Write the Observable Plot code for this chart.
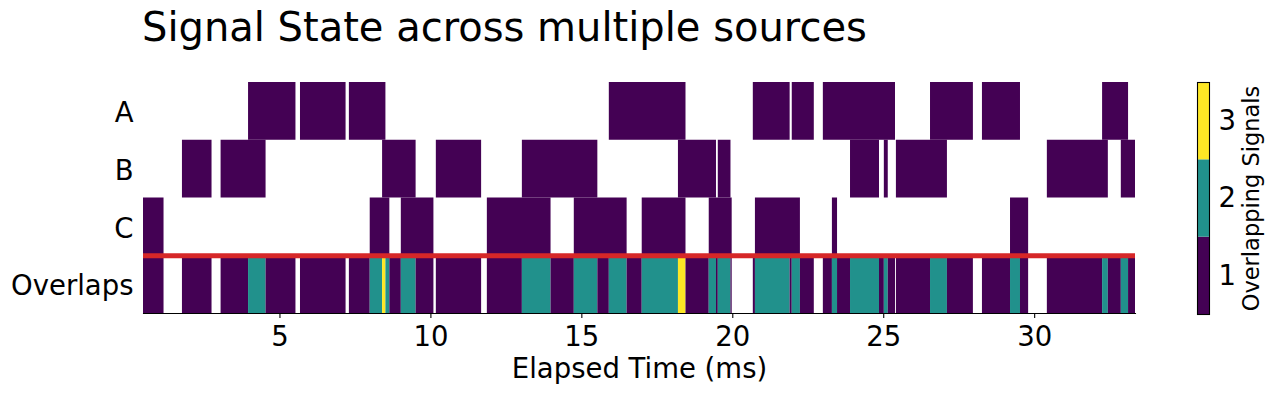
<!DOCTYPE html>
<html><head><meta charset="utf-8">
<script src="https://cdn.jsdelivr.net/npm/d3@7"></script>
<script src="https://cdn.jsdelivr.net/npm/@observablehq/plot@0.6"></script>
<style>
body{margin:0;background:#fff;font-family:"DejaVu Sans";}
#wrap{position:relative;width:1274px;height:394px;overflow:hidden;background:#fff;}
#title{position:absolute;left:142px;top:7px;font-size:40px;line-height:40px;white-space:nowrap;color:#000;font-family:"DejaVu Sans";}
#main{position:absolute;left:0;top:0;}
#cbar{position:absolute;left:1197px;top:0;}
</style></head><body>
<div id="wrap"><div id="main"></div><div id="cbar"></div><div id="title">Signal State across multiple sources</div></div>
<script>
// Row labels (top to bottom)
const rowNames = ["A", "B", "C", "Overlaps"];
// Signal intervals [start, end] in ms
const signalA = [[3.96,5.53],[5.68,7.19],[7.30,8.51],[15.91,18.45],[20.68,21.90],[21.97,22.70],[23.00,25.39],[26.55,27.97],[28.27,29.53],[32.25,33.11]];
const signalB = [[1.77,2.75],[3.05,4.54],[8.40,9.51],[10.18,11.68],[13.03,15.53],[18.20,19.46],[19.52,19.94],[23.90,24.86],[25.02,25.15],[25.42,27.11],[30.42,32.44],[32.87,33.34]];
const signalC = [[0.48,1.16],[7.99,8.64],[9.02,10.10],[11.87,13.98],[14.75,16.50],[17.00,18.45],[19.22,19.98],[20.75,22.24],[23.30,23.47],[29.20,29.80]];
const xDomain = [0.48, 33.34];
const xTicks = [5, 10, 15, 20, 25, 30];
const levels = [1, 2, 3];
const viridis3 = ["#440154", "#21918c", "#fde725"];

const sources = [signalA, signalB, signalC];
const signalRows = [];
sources.forEach((ivs, k) => {
  const row = 3 - k;
  ivs.forEach(([s, e]) => signalRows.push({x1: s, x2: e, y1: row, y2: row + 1, count: 1}));
});
// overlap counts derived from the three sources
const edges = Array.from(new Set(sources.flat(2))).sort((a, b) => a - b);
const overlapSegs = [];
for (let i = 0; i < edges.length - 1; i++) {
  const a = edges[i], b = edges[i + 1], m = (a + b) / 2;
  const n = sources.reduce((acc, ivs) => acc + ivs.filter(([s0, e0]) => s0 <= m && m < e0).length, 0);
  if (n > 0) {
    const last = overlapSegs[overlapSegs.length - 1];
    if (last && last.count === n && last.x2 === a) last.x2 = b;
    else overlapSegs.push({x1: a, x2: b, y1: 0, y2: 1, count: n});
  }
}

const colorOpt = {type: "ordinal", domain: levels, range: viridis3};
const styleOpt = {fontFamily: "DejaVu Sans", fontSize: "27.5px", color: "#000", background: "white", overflow: "visible"};

const main = Plot.plot({
  width: 1274, height: 394,
  marginLeft: 143, marginRight: 139, marginTop: 82, marginBottom: 81,
  style: styleOpt,
  x: {domain: xDomain},
  y: {domain: [0, 4]},
  color: colorOpt,
  marks: [
    Plot.rect(signalRows, {x1: "x1", x2: "x2", y1: "y1", y2: "y2", fill: "count"}),
    Plot.rect(overlapSegs, {x1: "x1", x2: "x2", y1: "y1", y2: "y2", fill: "count"}),
    Plot.ruleY([1], {stroke: "#d62728", strokeWidth: 5}),
    Plot.axisX({ticks: xTicks, tickSize: 5, tickPadding: 7.5, fontSize: 27.5, label: null, stroke: "#000", strokeWidth: 1.1}),
    Plot.axisY({ticks: [0.5, 1.5, 2.5, 3.5], tickSize: 0, tickPadding: 10, fontSize: 27.5, dy: 2,
      tickFormat: d => rowNames[3 - Math.floor(d)], label: null}),
    Plot.frame({anchor: "bottom", stroke: "#000", strokeWidth: 1.1}),
    Plot.text(["Elapsed Time (ms)"], {frameAnchor: "bottom", lineAnchor: "bottom", dy: 64, fontSize: 27.5, fill: "#000"})
  ]
});
document.getElementById("main").appendChild(main);

const cb = Plot.plot({
  width: 77, height: 394,
  marginLeft: 0, marginRight: 65, marginTop: 82, marginBottom: 80,
  style: styleOpt,
  y: {domain: [0.5, 3.5]},
  color: colorOpt,
  marks: [
    Plot.barY(levels, {y1: d => d - 0.5, y2: d => d + 0.5, fill: d => d}),
    Plot.frame({stroke: "#000", strokeWidth: 1.1}),
    Plot.axisY({anchor: "right", ticks: levels, tickSize: 0, tickPadding: 9, fontSize: 27.5, tickFormat: d => String(d), label: null}),
    Plot.text(["Overlapping Signals"], {frameAnchor: "right", textAnchor: "middle", lineAnchor: "middle", rotate: -90, dx: 42, fontSize: 22.5, fill: "#000"})
  ]
});
document.getElementById("cbar").appendChild(cb);
</script>
</body></html>
